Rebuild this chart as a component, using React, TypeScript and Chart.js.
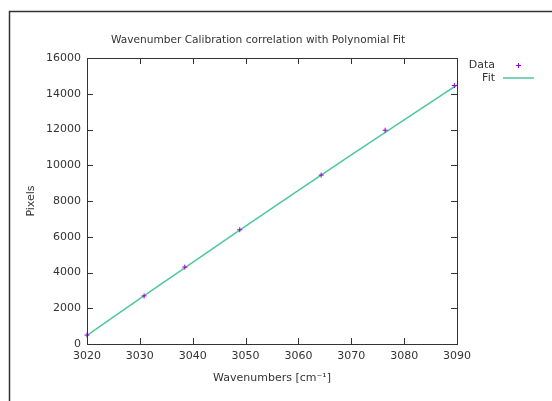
import React, { useEffect, useRef } from "react";
import { Chart, registerables } from "chart.js";

Chart.register(...registerables);

const dataX = [3020, 3030.8, 3038.5, 3048.9, 3064.3, 3076.4, 3089.5];
const dataY = [500, 2690, 4300, 6390, 9450, 11960, 14460];

const fitX = [3020, 3030, 3040, 3050, 3060, 3070, 3080, 3090];
const fitY = [480, 2535, 4572, 6591, 8592, 10575, 12540, 14490];

const xTicks = [3020, 3030, 3040, 3050, 3060, 3070, 3080, 3090];
const yTicks = [0, 2000, 4000, 6000, 8000, 10000, 12000, 14000, 16000];

const titleText = "Wavenumber Calibration correlation with Polynomial Fit";
const xTitle = "Wavenumbers [cm\u207B\u00B9]";
const yTitle = "Pixels";
const seriesNames = ["Data", "Fit"];

const FONT = '11px "DejaVu Sans", sans-serif';
const TITLE_FONT = '10.6px "DejaVu Sans", sans-serif';
const TEXT = "#333";
const PURPLE = "#9400d3";
const GREEN = "#4cc79f";

const decorPlugin = {
  id: "decor",
  afterDraw(chart: any) {
    const ctx = chart.ctx;
    const { left, right, top, bottom } = chart.chartArea;
    const xs = chart.scales.x;
    const ys = chart.scales.y;
    ctx.save();
    // outer frame
    ctx.strokeStyle = "#333";
    ctx.lineWidth = 1.5;
    ctx.beginPath();
    ctx.moveTo(9.5, 420);
    ctx.lineTo(9.5, 11.5);
    ctx.lineTo(560, 11.5);
    ctx.stroke();
    // plot border
    ctx.strokeStyle = "#333";
    ctx.lineWidth = 1;
    ctx.strokeRect(Math.round(left) + 0.5, Math.round(top) + 0.5, Math.round(right - left), Math.round(bottom - top));
    // inward ticks
    ctx.beginPath();
    xs.ticks.forEach((t: any) => {
      const px = Math.round(xs.getPixelForValue(t.value)) + 0.5;
      ctx.moveTo(px, bottom);
      ctx.lineTo(px, bottom - 6);
      ctx.moveTo(px, top);
      ctx.lineTo(px, top + 6);
    });
    ys.ticks.forEach((t: any) => {
      const py = Math.round(ys.getPixelForValue(t.value)) + 0.5;
      ctx.moveTo(left, py);
      ctx.lineTo(left + 6, py);
      ctx.moveTo(right, py);
      ctx.lineTo(right - 6, py);
    });
    ctx.stroke();
    // titles
    ctx.fillStyle = TEXT;
    ctx.textBaseline = "middle";
    ctx.textAlign = "center";
    ctx.font = TITLE_FONT;
    ctx.fillText(titleText, 258, 40);
    ctx.font = FONT;
    ctx.fillText(xTitle, (left + right) / 2, 378);
    ctx.save();
    ctx.translate(31, (top + bottom) / 2);
    ctx.rotate(-Math.PI / 2);
    ctx.fillText(yTitle, 0, 0);
    ctx.restore();
    // legend
    ctx.textAlign = "right";
    ctx.fillText(seriesNames[0], 495, 65);
    ctx.fillText(seriesNames[1], 495, 78);
    ctx.strokeStyle = PURPLE;
    ctx.lineWidth = 1;
    ctx.beginPath();
    ctx.moveTo(516, 65.5);
    ctx.lineTo(521, 65.5);
    ctx.moveTo(518.5, 63);
    ctx.lineTo(518.5, 68);
    ctx.stroke();
    ctx.strokeStyle = GREEN;
    ctx.lineWidth = 1.5;
    ctx.beginPath();
    ctx.moveTo(503, 78);
    ctx.lineTo(534, 78);
    ctx.stroke();
    ctx.restore();
  },
};

export default function App() {
  const ref = useRef<HTMLCanvasElement | null>(null);
  useEffect(() => {
    document.body.style.margin = "0";
    const canvas = ref.current!;
    const chart = new Chart(canvas, {
      type: "scatter",
      data: {
        datasets: [
          {
            label: seriesNames[0],
            data: dataX.map((x, i) => ({ x, y: dataY[i] })),
            pointStyle: "cross",
            pointRadius: 2.5,
            pointBorderWidth: 1,
            borderColor: PURPLE,
            backgroundColor: PURPLE,
            showLine: false,
            clip: false,
            order: 0,
          } as any,
          {
            label: seriesNames[1],
            data: fitX.map((x, i) => ({ x, y: fitY[i] })),
            showLine: true,
            pointRadius: 0,
            borderColor: GREEN,
            borderWidth: 1.5,
            cubicInterpolationMode: "monotone",
            order: 1,
          } as any,
        ],
      },
      options: {
        responsive: false,
        devicePixelRatio: 1,
        animation: false,
        layout: { padding: { left: 10, right: 95, top: 58, bottom: 0 } },
        plugins: { legend: { display: false }, title: { display: false }, tooltip: { enabled: false } },
        scales: {
          x: {
            type: "linear",
            min: xTicks[0],
            max: xTicks[xTicks.length - 1],
            afterBuildTicks: (s: any) => {
              s.ticks = xTicks.map((v) => ({ value: v }));
            },
            afterFit: (s: any) => {
              s.height = 57;
            },
            grid: { display: false, drawTicks: false },
            border: { display: false },
            ticks: { padding: 6, color: TEXT, font: { family: '"DejaVu Sans", sans-serif', size: 11 }, maxRotation: 0, callback: (v: any) => String(v) },
          },
          y: {
            type: "linear",
            min: yTicks[0],
            max: yTicks[yTicks.length - 1],
            afterBuildTicks: (s: any) => {
              s.ticks = yTicks.map((v) => ({ value: v }));
            },
            afterFit: (s: any) => {
              s.width = 77;
            },
            grid: { display: false, drawTicks: false },
            border: { display: false },
            ticks: { padding: 6, color: TEXT, font: { family: '"DejaVu Sans", sans-serif', size: 11 }, callback: (v: any) => String(v) },
          },
        },
      },
      plugins: [decorPlugin],
    });
    return () => chart.destroy();
  }, []);
  return <canvas ref={ref} width={552} height={401} style={{ display: "block" }} />;
}
